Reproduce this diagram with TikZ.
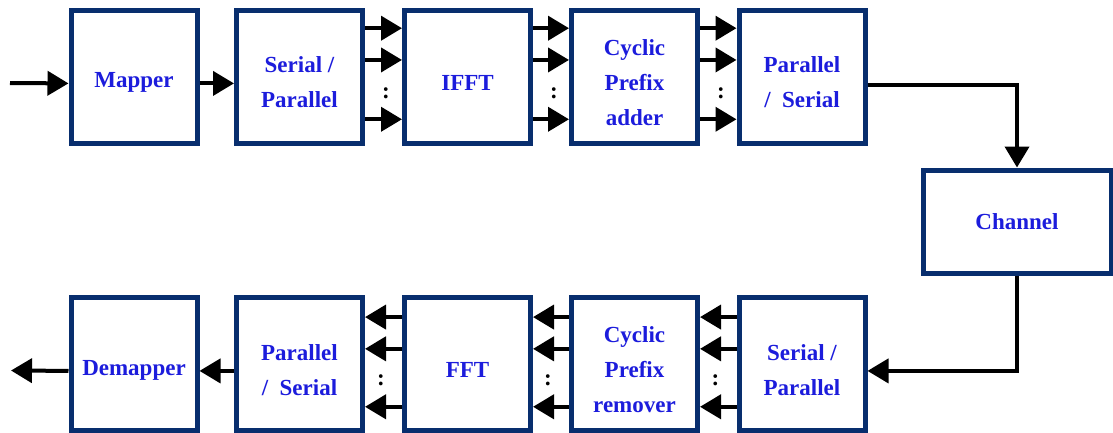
\documentclass[tikz,border=0pt]{standalone}
\usepackage{fontspec}
\setmainfont{Liberation Serif}
\usetikzlibrary{arrows.meta,calc}
\definecolor{boxnavy}{RGB}{8,46,110}
\definecolor{txtblue}{RGB}{28,28,220}
\begin{document}
\begin{tikzpicture}[x=1pt,y=-1pt,
  box/.style={draw=boxnavy,line width=5pt,fill=white,minimum width=126pt,minimum height=133pt,
    inner sep=2pt,align=center,text=txtblue,font=\bfseries\fontsize{23}{35}\selectfont},
  lbl/.style={yshift=-6pt,align=center,text=txtblue,font=\bfseries\fontsize{23}{35}\selectfont},
  block/.style={box,label={[lbl]center:#1}},
  arr/.style={line width=4pt,-{Triangle[length=21pt,width=24pt]}},
  dots/.style={inner sep=0pt,font=\bfseries\fontsize{23}{35}\selectfont}]
\useasboundingbox (0,0) rectangle (1113,432);

% transmitter
\node[block={Mapper}]              (map)  at (134,76.5)   {};
\node[block={Serial /\\Parallel}]  (sp1)  at (299.5,76.5) {};
\node[block={IFFT}]                (ifft) at (467.5,76.5) {};
\node[block={Cyclic\\Prefix\\adder}] (cpa) at (634.5,76.5) {};
\node[block={Parallel\\/ \ Serial}] (ps1) at (802,76.5)   {};

% channel
\node[box,minimum width=188pt,minimum height=103pt] (chan) at (1017,221.5) {Channel};

% receiver
\node[block={Demapper}]              (demap) at (134,364)   {};
\node[block={Parallel\\/ \ Serial}]  (ps2)   at (299.5,364) {};
\node[block={FFT}]                   (fft)   at (467.5,364) {};
\node[block={Cyclic\\Prefix\\remover}] (cpr) at (634.5,364) {};
\node[block={Serial /\\Parallel}]    (sp2)   at (802,364)   {};

\coordinate (in) at (10,83);
\coordinate (out) at (11,370.5);

\draw[arr] (in) -- ($(map.north west)!0.55!(map.south west)$);
\draw[arr] ($(map.north east)!0.55!(map.south east)$) -- ($(sp1.north west)!0.55!(sp1.south west)$);
\foreach \a/\b in {sp1/ifft,ifft/cpa,cpa/ps1}{
  \foreach \f in {0.15,0.38,0.81}
    \draw[arr] ($(\a.north east)!\f!(\a.south east)$) -- ($(\b.north west)!\f!(\b.south west)$);
  \node[dots] at ($(\a.north east)!0.62!(\a.south east)+(21,0)$) {:};
}

\draw[arr] ($(ps1.north east)!0.56!(ps1.south east)$) -| (chan.north);
\draw[arr] (chan.south) |- ($(sp2.north east)!0.55!(sp2.south east)$);

\foreach \a/\b in {sp2/cpr,cpr/fft,fft/ps2}{
  \foreach \f in {0.16,0.39,0.81}
    \draw[arr] ($(\a.north west)!\f!(\a.south west)$) -- ($(\b.north east)!\f!(\b.south east)$);
  \node[dots] at ($(\a.north west)!0.62!(\a.south west)-(21,0)$) {:};
}
\draw[arr] ($(ps2.north west)!0.55!(ps2.south west)$) -- ($(demap.north east)!0.55!(demap.south east)$);
\draw[arr] ($(demap.north west)!0.55!(demap.south west)$) -- (out);
\end{tikzpicture}
\end{document}
